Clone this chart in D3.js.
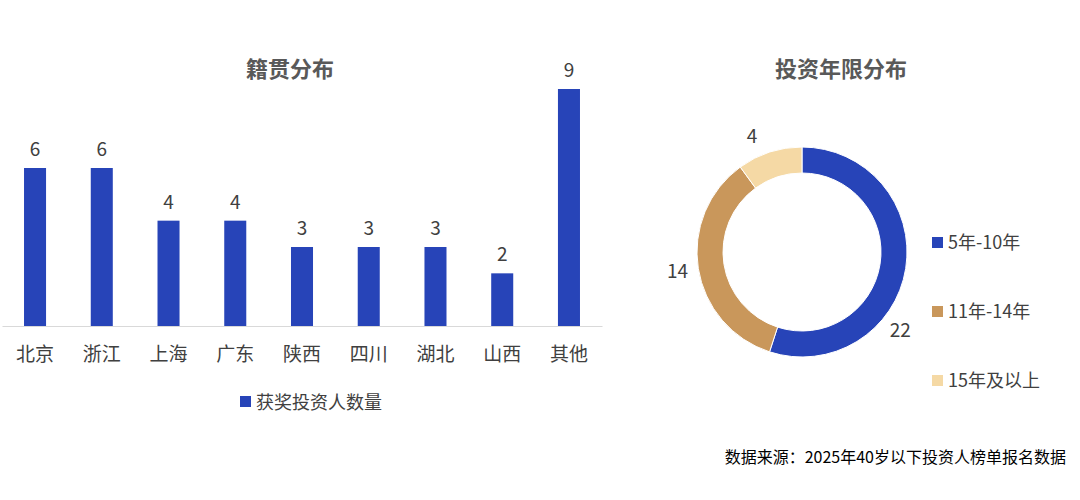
<!DOCTYPE html>
<html><head><meta charset="utf-8">
<script src="https://cdn.jsdelivr.net/npm/d3@7"></script>
<style>body{margin:0;background:#fff;font-family:"Noto Sans CJK SC","Noto Sans",sans-serif;}</style>
</head><body>
<svg id="chart" width="1080" height="500"></svg>
<script>
"use strict"

var regions = ["北京", "浙江", "上海", "广东", "陕西", "四川", "湖北", "山西", "其他"];
var regionCounts = [6, 6, 4, 4, 3, 3, 3, 2, 9];
var yearGroups = ["5年-10年", "11年-14年", "15年及以上"];
var yearCounts = [22, 14, 4];
var yearColors = ["#2744b8", "#c9975b", "#f5d9a5"];
var labelFrac = [0.65, 0.5, 0.35];
var BAR_COLOR = "#2744b8";
var TEXT_COLOR = "#404040";

var svg = d3.select("#chart");

// bar chart
var x = d3.scaleBand().domain(regions).range([2, 602]).paddingInner(0.67).paddingOuter(0.33);
var y = d3.scaleLinear().domain([0, 9]).range([326, 89]);

svg.append("text").attr("x", 290).attr("y", 77).attr("text-anchor", "middle")
	.attr("font-size", 22).attr("font-weight", "bold").attr("fill", "#595959").text("籍贯分布");

svg.selectAll("rect.bar").data(regionCounts).enter().append("rect")
	.attr("class", "bar")
	.attr("x", function(d, i) { return x(regions[i]); })
	.attr("y", function(d) { return y(d); })
	.attr("width", x.bandwidth())
	.attr("height", function(d) { return y(0) - y(d); })
	.attr("fill", BAR_COLOR);

svg.selectAll("text.val").data(regionCounts).enter().append("text")
	.attr("x", function(d, i) { return x(regions[i]) + x.bandwidth() / 2; })
	.attr("y", function(d) { return y(d) - 12; })
	.attr("text-anchor", "middle").attr("font-size", 19).attr("fill", TEXT_COLOR)
	.text(function(d) { return d; });

var xAxis = svg.append("g").attr("transform", "translate(0,326)")
	.call(d3.axisBottom(x).tickSize(0).tickPadding(22));
xAxis.select(".domain").attr("stroke", "#d9d9d9");
xAxis.selectAll("text").attr("font-size", 19).attr("fill", TEXT_COLOR)
	.attr("font-family", "'Noto Sans CJK SC',sans-serif");

svg.append("rect").attr("x", 240).attr("y", 396).attr("width", 11).attr("height", 11).attr("fill", BAR_COLOR);
svg.append("text").attr("x", 256).attr("y", 409).attr("font-size", 18).attr("fill", TEXT_COLOR).text("获奖投资人数量");

// donut chart
var cx = 802, cy = 252;
svg.append("text").attr("x", 841).attr("y", 77).attr("text-anchor", "middle")
	.attr("font-size", 22).attr("font-weight", "bold").attr("fill", "#595959").text("投资年限分布");

var pie = d3.pie().sort(null)(yearCounts);
var arc = d3.arc().innerRadius(79).outerRadius(105);
var g = svg.append("g").attr("transform", "translate(" + cx + "," + cy + ")");
g.selectAll("path").data(pie).enter().append("path")
	.attr("d", arc)
	.attr("fill", function(d, i) { return yearColors[i]; })
	.attr("stroke", "#fff").attr("stroke-width", 1);

g.selectAll("text").data(pie).enter().append("text")
	.attr("transform", function(d, i) {
		var a = d.startAngle + labelFrac[i] * (d.endAngle - d.startAngle);
		var r = 126;
		return "translate(" + (Math.sin(a) * r) + "," + (-Math.cos(a) * r) + ")";
	})
	.attr("text-anchor", "middle").attr("dy", "0.35em")
	.attr("font-size", 19).attr("fill", TEXT_COLOR)
	.text(function(d) { return d.data; });

var leg = svg.selectAll("g.leg").data(yearGroups).enter().append("g")
	.attr("class", "leg")
	.attr("transform", function(d, i) { return "translate(932," + (237 + i * 69) + ")"; });
leg.append("rect").attr("width", 11).attr("height", 11)
	.attr("fill", function(d, i) { return yearColors[i]; });
leg.append("text").attr("x", 16).attr("y", 12).attr("font-size", 18).attr("fill", TEXT_COLOR)
	.text(function(d) { return d; });

svg.append("text").attr("x", 1066).attr("y", 463).attr("text-anchor", "end")
	.attr("font-size", 16).attr("fill", "#000").text("数据来源：2025年40岁以下投资人榜单报名数据");
</script>
</body></html>
